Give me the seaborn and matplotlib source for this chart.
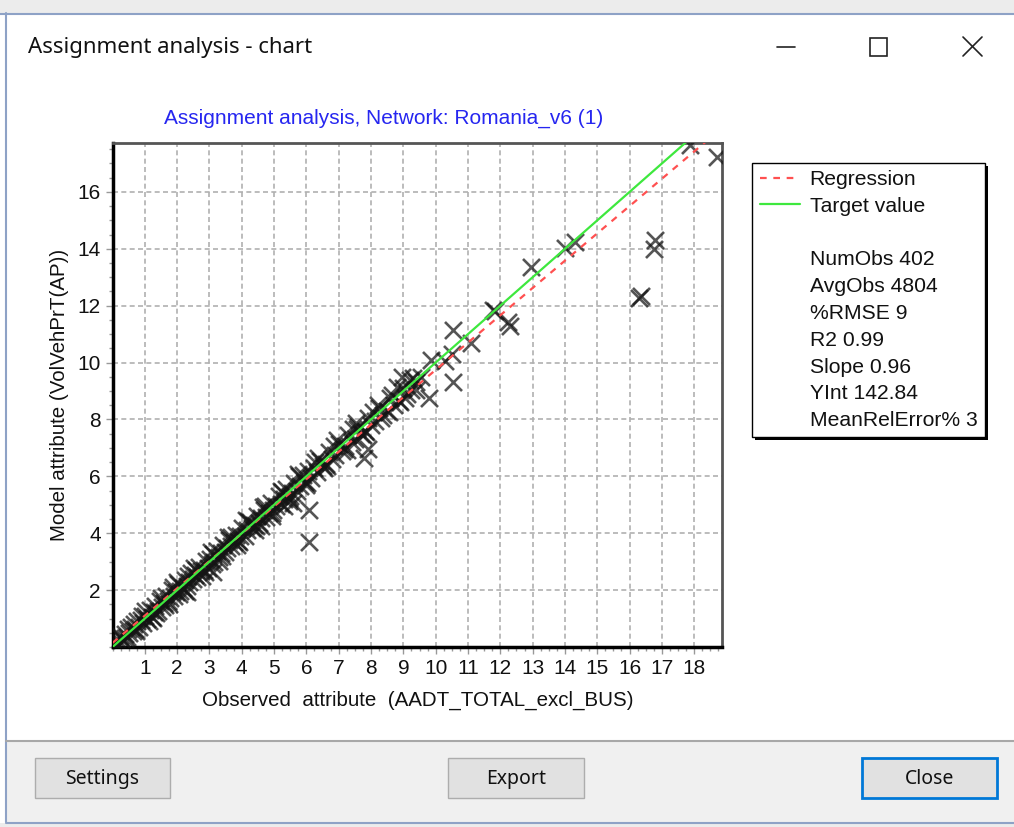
import numpy as np
import pandas as pd
import matplotlib
matplotlib.use("Agg")
import matplotlib.pyplot as plt
from matplotlib.patches import Rectangle
from matplotlib.lines import Line2D
from matplotlib.ticker import MultipleLocator
import seaborn as sns

# Observed vs model volumes (thousands of vehicles)
obs_k = [0.10, 0.18, 0.25, 0.31, 0.38, 0.44, 0.52, 0.58, 0.63, 0.70, 0.76, 0.82, 0.88, 0.95,
         1.02, 1.08, 1.15, 1.21, 1.27, 1.33, 1.40, 1.46, 1.52, 1.58, 1.65, 1.71, 1.78, 1.84,
         1.90, 1.97, 2.04, 2.10, 2.17, 2.23, 2.30, 2.36, 2.43, 2.50, 2.56, 2.62, 2.69, 2.75,
         2.82, 2.88, 2.95, 3.01, 3.08, 3.15, 3.22, 3.28, 3.35, 3.42, 3.48, 3.55, 3.62, 3.68,
         3.75, 3.82, 3.88, 3.95, 4.02, 4.10, 4.17, 4.24, 4.31, 4.38, 4.46, 4.53, 4.60, 4.68,
         4.75, 4.83, 4.90, 4.98, 5.06, 5.14, 5.22, 5.30, 5.38, 5.46, 5.55, 5.63, 5.72, 5.80,
         5.88, 5.97, 6.05, 6.14, 6.23, 6.32, 6.41, 6.50, 6.60, 6.70, 6.80, 6.90, 7.00, 7.10,
         7.20, 7.30, 7.40, 7.50, 7.60, 7.70, 7.80, 7.90, 8.00, 8.12, 8.24, 8.36, 8.48, 8.60,
         8.72, 8.85, 8.98, 9.10, 9.25, 9.40, 9.55,
         0.15, 0.40, 0.66, 0.92, 1.12, 1.36, 1.62, 1.88, 2.07, 2.33, 2.58, 2.86, 3.12, 3.38,
         3.66, 3.92, 4.20, 4.44, 4.72, 4.95, 5.25, 5.50, 5.78, 6.02, 6.28, 6.55, 6.85, 7.15,
         7.45, 7.75, 8.05, 8.30, 8.65, 8.90, 9.20,
         0.22, 0.48, 0.74, 1.00, 1.25, 1.50, 1.75, 2.00, 2.25, 2.52, 2.78, 3.05, 3.30, 3.58,
         3.85, 4.12, 4.40, 4.66, 4.92, 5.20, 5.45, 5.75, 6.00, 6.35, 6.65, 6.95, 7.25, 7.55,
         7.85, 8.20, 8.55, 8.80, 9.05,
         2.30, 3.10, 4.60, 5.30, 5.60, 6.08, 6.08, 7.56, 7.78, 7.90, 8.95, 9.30, 9.40, 9.87,
         9.80, 10.30, 10.50, 10.55, 10.55, 11.10, 11.78, 11.85, 12.24, 12.30, 12.95, 14.00,
         14.30, 16.30, 16.36, 16.75, 16.80, 17.88, 18.71]
model_k = [0.12, 0.10, 0.33, 0.22, 0.45, 0.36, 0.49, 0.70, 0.55, 0.62, 0.90, 0.71, 0.95, 0.84,
           1.10, 0.98, 1.30, 1.05, 1.22, 1.45, 1.28, 1.60, 1.41, 1.55, 1.80, 1.60, 1.72, 2.02,
           1.78, 1.95, 2.20, 1.96, 2.08, 2.35, 2.15, 2.28, 2.60, 2.38, 2.52, 2.45, 2.80, 2.66,
           2.70, 3.02, 2.78, 3.10, 2.92, 3.00, 3.38, 3.15, 3.30, 3.58, 3.35, 3.48, 3.75, 3.55,
           3.70, 3.95, 3.72, 3.90, 4.18, 3.92, 4.10, 4.40, 4.20, 4.30, 4.62, 4.35, 4.55, 4.80,
           4.58, 4.72, 5.05, 4.80, 4.95, 5.30, 5.02, 5.20, 5.55, 5.25, 5.40, 5.78, 5.50, 5.65,
           6.05, 5.80, 6.20, 5.95, 6.30, 6.15, 6.55, 6.35, 6.45, 6.85, 6.60, 6.75, 7.15, 6.90,
           7.05, 7.45, 7.20, 7.30, 7.75, 7.50, 7.60, 8.05, 7.80, 7.95, 8.40, 8.15, 8.30, 8.75,
           8.50, 8.65, 9.10, 8.90, 9.05, 9.30, 9.50,
           0.28, 0.30, 0.80, 1.08, 0.92, 1.20, 1.48, 2.10, 1.85, 2.50, 2.70, 2.62, 3.28, 3.20,
           3.88, 3.70, 4.42, 4.25, 4.95, 4.70, 5.45, 5.30, 6.00, 5.75, 6.50, 6.30, 7.05, 6.95,
           7.65, 7.45, 8.25, 8.05, 8.85, 8.60, 9.40,
           0.40, 0.62, 0.58, 1.25, 1.02, 1.72, 1.50, 2.28, 1.98, 2.78, 2.50, 3.35, 3.02, 3.85,
           3.58, 4.45, 4.10, 4.92, 4.62, 5.50, 5.12, 6.08, 5.68, 6.65, 6.35, 7.28, 6.92, 7.88,
           7.55, 8.52, 8.25, 9.15, 8.75,
           1.95, 2.65, 4.25, 4.95, 5.05, 4.82, 3.69, 7.65, 6.65, 6.95, 9.49, 9.47, 9.05, 10.10,
           8.76, 10.05, 10.30, 11.15, 9.32, 10.69, 11.85, 11.80, 11.43, 11.30, 13.36, 14.03,
           14.24, 12.27, 12.35, 14.00, 14.30, 17.65, 17.23]

# Summary statistics shown in the chart
stat_labels = ["NumObs 402", "AvgObs 4804", "%RMSE 9", "R2 0.99", "Slope 0.96",
               "YInt 142.84", "MeanRelError% 3"]
slope = 0.96
yint_k = 142.84 / 1000

x_ticks = list(range(1, 19))
y_ticks = list(range(2, 17, 2))

W, H = 1014, 827
sns.set_style("white")
plt.rcParams["font.family"] = ["Liberation Sans", "DejaVu Sans"]

fig = plt.figure(figsize=(W / 100, H / 100), dpi=100)


def rect(x0, y0, x1, y1, **kw):
    # rectangle in screenshot pixel coordinates
    r = Rectangle((x0 / W, 1 - y1 / H), (x1 - x0) / W, (y1 - y0) / H,
                  transform=fig.transFigure, **kw)
    fig.add_artist(r)
    return r


def fline(xs, ys, **kw):
    fig.add_artist(Line2D([x / W for x in xs], [1 - y / H for y in ys],
                          transform=fig.transFigure, **kw))


# window chrome
rect(0, 0, W, 13, facecolor="#ececec", edgecolor="none")
fline([0, W], [13.5, 13.5], color="#8ea2c6", lw=1.5)
fline([6, 6], [13, 822], color="#8ea2c6", lw=1.5)
rect(6, 741, W, 822, facecolor="#f0f0f0", edgecolor="none")
fline([6, W], [741, 741], color="#a8a8a8", lw=1.5)
fline([6, W], [822.5, 822.5], color="#8ea2c6", lw=1.5)
rect(0, 823, W, H, facecolor="#ececec", edgecolor="none")
fig.text(28 / W, 1 - 47 / H, "Assignment analysis - chart", fontsize=16,
         family=["Noto Sans", "DejaVu Sans"], va="center", ha="left", color="#111111")
fline([777, 795], [47, 47], color="#222222", lw=1.2)
rect(870, 38, 887, 56, facecolor="none", edgecolor="#222222", lw=1.2)
fline([963, 982], [37, 56], color="#222222", lw=1.2)
fline([963, 982], [56, 37], color="#222222", lw=1.2)

for (bx0, bx1, label, ec, lw) in [(35, 170, "Settings", "#adadad", 1.0),
                                  (448, 584, "Export", "#adadad", 1.0),
                                  (862, 997, "Close", "#0078d7", 2.0)]:
    rect(bx0, 758, bx1, 798, facecolor="#e1e1e1", edgecolor=ec, lw=lw)
    fig.text((bx0 + bx1) / 2 / W, 1 - 779 / H, label, fontsize=14,
             family=["Noto Sans", "DejaVu Sans"], ha="center", va="center", color="#111111")

# chart title
fig.text(384 / W, 1 - 118 / H, "Assignment analysis, Network: Romania_v6 (1)",
         fontsize=15, color="#2626f0", ha="center", va="center")

ax = fig.add_axes([112.5 / W, 1 - 647 / H, (722 - 112.5) / W, (647 - 143) / H])

df = pd.DataFrame({"obs": obs_k, "model": model_k})
sns.scatterplot(data=df, x="obs", y="model", marker="x", s=150, color="#141414",
                alpha=0.72, linewidth=1.9, ax=ax, zorder=3, legend=False)

line_x = [0.0, 19.0]
sns.lineplot(x=line_x, y=[v for v in line_x], color="#3ee83e", lw=1.6, ax=ax, zorder=5)
sns.lineplot(x=line_x, y=[slope * v + yint_k for v in line_x], color="#ff5050",
             lw=1.6, ax=ax, zorder=4, linestyle=(0, (3, 3)))

ax.set_xlim(0, 18.86)
ax.set_ylim(0, 17.72)
ax.set_xticks(x_ticks)
ax.set_yticks(y_ticks)
ax.xaxis.set_minor_locator(MultipleLocator(0.25))
ax.yaxis.set_minor_locator(MultipleLocator(0.5))
ax.tick_params(which="both", direction="out", color="#999999", labelsize=15,
               labelcolor="#111111", bottom=True, left=True)
ax.tick_params(which="major", length=5, width=1)
ax.tick_params(which="minor", length=3, width=1)
ax.grid(True, which="major", color="#b0b0b0", linestyle=(0, (3, 2)), lw=1.2)
ax.set_axisbelow(True)
for side in ["left", "bottom"]:
    ax.spines[side].set_color("#000000")
    ax.spines[side].set_linewidth(2.5)
for side in ["top", "right"]:
    ax.spines[side].set_color("#555555")
    ax.spines[side].set_linewidth(2.0)

ax.set_xlabel("Observed  attribute  (AADT_TOTAL_excl_BUS)", fontsize=14.8,
              color="#111111", labelpad=9)
ax.set_ylabel("Model attribute (VolVehPrT(AP))", fontsize=14.8, color="#111111", labelpad=6)

# legend box with shadow
rect(755, 166, 988, 440, facecolor="#000000", edgecolor="none")
rect(752, 163, 985, 437, facecolor="white", edgecolor="#000000", lw=1.0)
handles = [Line2D([], [], color="#ff5050", lw=1.6, linestyle=(0, (3, 3))),
           Line2D([], [], color="#3ee83e", lw=1.6),
           Line2D([], [], color="none")]
handles += [Line2D([], [], color="none") for _ in stat_labels]
labels = ["Regression", "Target value", " "] + stat_labels
fig.legend(handles, labels, loc="upper left", bbox_to_anchor=(760 / W, 1 - 170 / H),
           frameon=False, fontsize=15.2, borderpad=0, borderaxespad=0, handlelength=1.9,
           handletextpad=0.45, labelspacing=0.37, labelcolor="#111111")

fig.savefig("out.png", dpi=100)
